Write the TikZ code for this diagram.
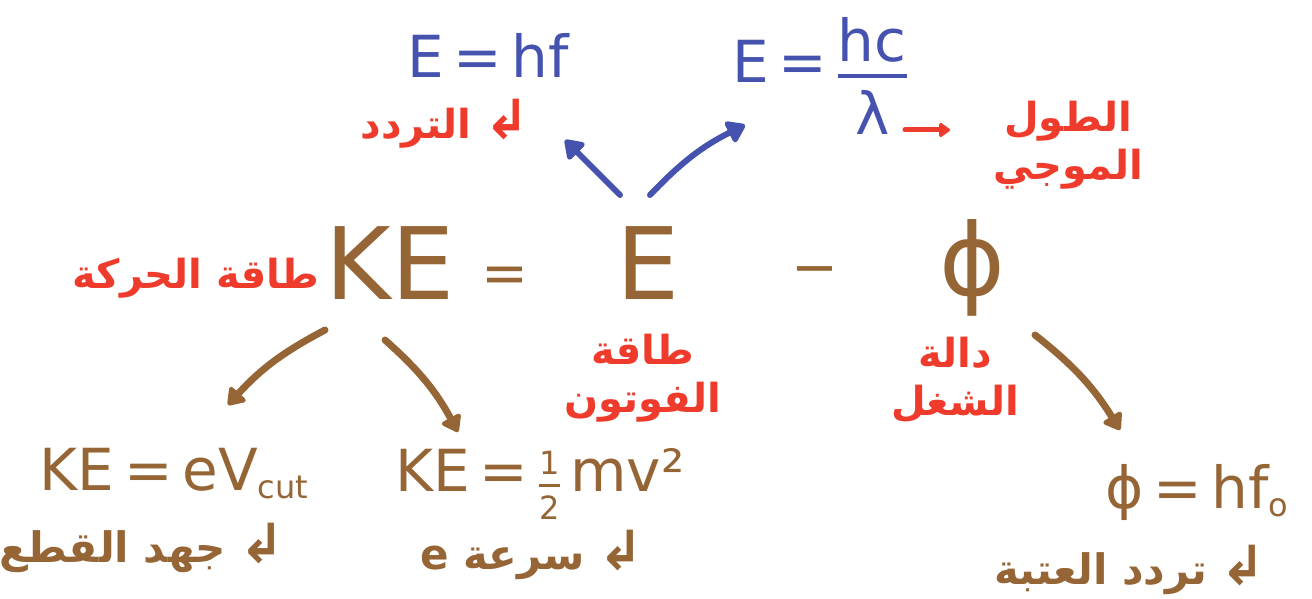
\documentclass[tikz,border=0pt]{standalone}
\usepackage{amsmath}
\usepackage{fontspec}
\setmainfont{DejaVu Sans}
\newfontfamily\arabicfont[Script=Arabic]{DejaVu Sans}
\TeXXeTstate=1
\usetikzlibrary{arrows.meta}
\definecolor{penblue}{HTML}{4553AF}
\definecolor{penred}{HTML}{EE3B2B}
\definecolor{penbrown}{HTML}{956535}
\newcommand{\ar}[1]{{\arabicfont\bfseries\beginR #1\endR}}
\newcommand{\hookarr}{{\fontsize{54}{54}\selectfont\bfseries ↲}}
\newcommand{\lowsub}[1]{\raisebox{-8pt}{\fontsize{32}{32}\selectfont #1}}

\begin{document}
\begin{tikzpicture}[x=1pt,y=-1pt,
  blueeq/.style={text=penblue,inner sep=0pt,font=\fontsize{58}{60}\selectfont},
  browneq/.style={text=penbrown,inner sep=0pt,font=\fontsize{58}{60}\selectfont},
  maineq/.style={text=penbrown,inner sep=0pt,font=\fontsize{100}{100}\selectfont},
  mainop/.style={text=penbrown,inner sep=0pt,font=\fontsize{56}{56}\selectfont},
  redtxt/.style={text=penred,inner sep=0pt,align=center,font=\fontsize{40}{48}\selectfont},
  browntxt/.style={text=penbrown,inner sep=0pt,font=\fontsize{42}{48}\selectfont},
  bluearrow/.style={draw=penblue,line width=6pt,line cap=round,-{Triangle[length=20pt,width=26pt,round]}},
  brownarrow/.style={draw=penbrown,line width=7pt,line cap=round,-{Triangle[length=18pt,width=24pt,round]}},
  redarrow/.style={draw=penred,line width=5pt,line cap=round,-{Triangle[length=12pt,width=16pt,round]}}]
\useasboundingbox (0,0) rectangle (1312,599);

\node[blueeq] (hf) at (488,55) {E\,=\,hf};
\node[blueeq] (hcl) at (820,76) {E\,=\,$\genfrac{}{}{4pt}{0}{\mbox{hc}}{\mbox{λ}}$};
\node[redtxt] (freq) at (445,124) {\ar{التردد}\ \hookarr};
\node[redtxt] (wave) at (1068,145) {\ar{الطول}\\\ar{الموجي}};

\node[maineq] (KE) at (390,263) {KE};
\node[mainop] (eqsign) at (505,280) {=};
\node[maineq] (Ephoton) at (648,263) {E};
\node[mainop] (minus) at (815,277) {−};
\node[maineq] (phi) at (972,268) {ϕ};

\node[redtxt] (kinetic) at (196,278) {\ar{طاقة الحركة}};
\node[redtxt] (photon) at (643,378) {\ar{طاقة}\\\ar{الفوتون}};
\node[redtxt] (work) at (955,380) {\ar{دالة}\\\ar{الشغل}};

\node[browneq] (KEeV) at (174,474) {KE\,=\,eV\lowsub{cut}};
\node[browneq] (KEmv) at (540,484) {KE\,=\,$\genfrac{}{}{3pt}{0}{\mbox{\fontsize{32}{32}\selectfont 1}}{\mbox{\fontsize{32}{32}\selectfont 2}}$\,mv²};
\node[browneq] (phihf) at (1197,492) {ϕ\,=\,hf\lowsub{o}};

\node[browntxt] (cut) at (142,548) {\ar{جهد القطع}\ \hookarr};
\node[browntxt] (speed) at (532,555) {\ar{سرعة \beginL e\endL}\ \hookarr};
\node[browntxt] (thresh) at (1130,570) {\ar{تردد العتبة}\ \hookarr};

\draw[bluearrow] ([xshift=-28pt,yshift=68pt]Ephoton.center) -- ([xshift=77pt,yshift=-85pt]hf.center);
\draw[bluearrow] ([xshift=2pt,yshift=68pt]Ephoton.center) to[bend left=10] ([xshift=-75pt,yshift=-49pt]hcl.center);
\draw[redarrow] ([xshift=85pt,yshift=-54pt]hcl.center) -- ([xshift=-118pt,yshift=15pt]wave.center);

\draw[brownarrow] ([xshift=-65pt,yshift=-67pt]KE.center) to[bend right=10] ([xshift=54pt,yshift=69pt]KEeV.center);
\draw[brownarrow] ([xshift=-5pt,yshift=-77pt]KE.center) to[bend left=10] ([xshift=-82pt,yshift=52pt]KEmv.center);
\draw[brownarrow] ([xshift=63pt,yshift=-67pt]phi.center) to[bend left=10] ([xshift=-77pt,yshift=62pt]phihf.center);
\end{tikzpicture}
\end{document}
